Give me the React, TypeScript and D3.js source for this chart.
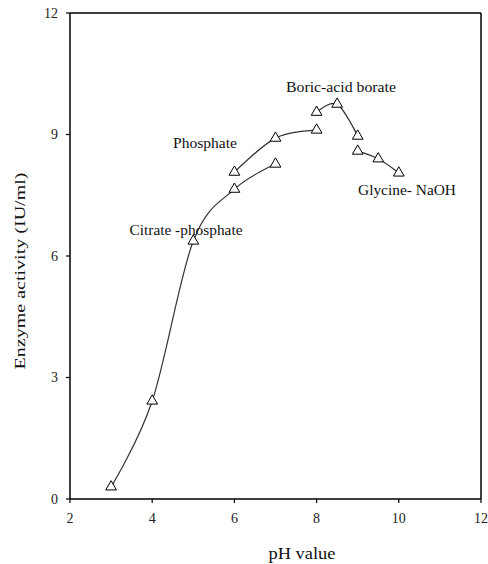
import React from "react";
import * as d3 from "d3";

const citrateX = [3, 4, 5, 6, 7];
const citrateY = [0.3, 2.42, 6.37, 7.65, 8.27];
const phosphateX = [6, 7, 8];
const phosphateY = [8.07, 8.91, 9.11];
const boricX = [8, 8.5, 9];
const boricY = [9.55, 9.75, 8.96];
const glycineX = [9, 9.5, 10];
const glycineY = [8.59, 8.4, 8.05];
const xTicks = [2, 4, 6, 8, 10, 12];
const yTicks = [0, 3, 6, 9, 12];
const seriesLabels = ["Citrate -phosphate", "Phosphate", "Boric-acid borate", "Glycine- NaOH"];

export default function App() {
  const W = 488, H = 564;
  const x = d3.scaleLinear().domain([2, 12]).range([70, 481]);
  const y = d3.scaleLinear().domain([0, 12]).range([499, 13]);
  const font = "'Liberation Serif', 'Times New Roman', serif";
  const series = [
    { xs: citrateX, ys: citrateY },
    { xs: phosphateX, ys: phosphateY },
    { xs: boricX, ys: boricY },
    { xs: glycineX, ys: glycineY },
  ];
  const line = d3
    .line<[number, number]>()
    .x((d) => x(d[0]))
    .y((d) => y(d[1]))
    .curve(d3.curveCardinal.tension(0));
  const tri = d3.symbol().type(d3.symbolTriangle).size(50);
  const labelPos = [
    { px: 186, py: 230, len: 113 },
    { px: 205, py: 143, len: 64 },
    { px: 341, py: 87, len: 110 },
    { px: 407, py: 190, len: 98 },
  ];
  return (
    <svg width={W} height={H} style={{ position: "absolute", left: 0, top: 0, background: "#fff" }}>
      <rect x={0} y={0} width={W} height={H} fill="#fff" />
      <line x1={x(2)} x2={x(12)} y1={y(12)} y2={y(12)} stroke="#000" strokeWidth={1.5} />
      <line x1={x(12)} x2={x(12)} y1={y(12)} y2={y(0)} stroke="#000" strokeWidth={1.5} />
      <line x1={x(2)} x2={x(2)} y1={y(12)} y2={y(0)} stroke="#000" strokeWidth={1.5} />
      <line x1={x(2)} x2={x(12)} y1={y(0)} y2={y(0)} stroke="#000" strokeWidth={1.5} />
      {yTicks.map((t) => (
        <g key={"y" + t}>
          <line x1={x(2) - 4} x2={x(2)} y1={y(t)} y2={y(t)} stroke="#000" strokeWidth={1.2} />
          <text x={x(2) - 12} y={y(t)} dy="0.35em" textAnchor="end" fontFamily={font} fontSize={14} fill="#222">
            {t}
          </text>
        </g>
      ))}
      {xTicks.map((t) => (
        <g key={"x" + t}>
          <line x1={x(t)} x2={x(t)} y1={y(0)} y2={y(0) + 4} stroke="#000" strokeWidth={1.2} />
          <text x={x(t)} y={518} dy="0.35em" textAnchor="middle" fontFamily={font} fontSize={14} fill="#222">
            {t}
          </text>
        </g>
      ))}
      <text
        x={302}
        y={553}
        dy="0.35em"
        textAnchor="middle"
        fontFamily={font}
        fontSize={16}
        fill="#111"
        textLength={67}
        lengthAdjust="spacingAndGlyphs"
      >
        pH value
      </text>
      <text
        transform={`translate(20,271) rotate(-90)`}
        dy="0.35em"
        textAnchor="middle"
        fontFamily={font}
        fontSize={15}
        fill="#111"
        textLength={197}
        lengthAdjust="spacingAndGlyphs"
      >
        Enzyme activity (IU/ml)
      </text>
      {series.map((s, i) => {
        const pts: [number, number][] = s.xs.map((v, j) => [v, s.ys[j]]);
        return (
          <g key={"s" + i}>
            <path d={line(pts) || ""} fill="none" stroke="#333" strokeWidth={1.2} />
            {pts.map((p, j) => (
              <path
                key={j}
                d={tri() || ""}
                transform={`translate(${x(p[0])},${y(p[1])})`}
                fill="#fff"
                stroke="#000"
                strokeWidth={1}
              />
            ))}
          </g>
        );
      })}
      {seriesLabels.map((l, i) => (
        <text
          key={l}
          x={labelPos[i].px}
          y={labelPos[i].py}
          dy="0.35em"
          textAnchor="middle"
          fontFamily={font}
          fontSize={14}
          fill="#111"
          textLength={labelPos[i].len}
          lengthAdjust="spacingAndGlyphs"
        >
          {l}
        </text>
      ))}
    </svg>
  );
}
